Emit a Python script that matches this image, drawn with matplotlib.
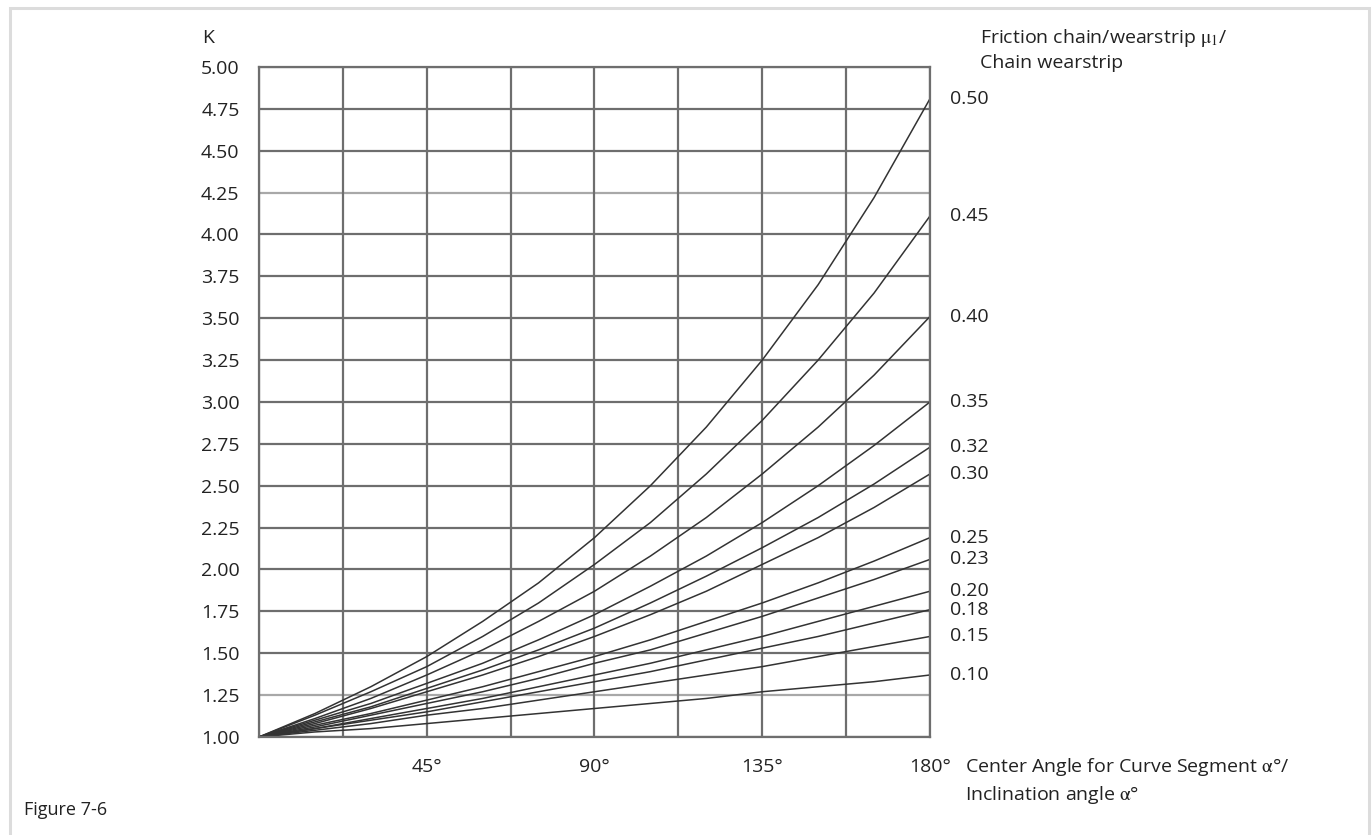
import numpy as np
import matplotlib
matplotlib.use('Agg')
import matplotlib.pyplot as plt
from matplotlib.patches import Rectangle

plt.rcParams['font.family'] = ['Open Sans', 'DejaVu Sans']
plt.rcParams['mathtext.fontset'] = 'stix'

# angle (degrees) and K for each friction coefficient
angles = [0, 15, 30, 45, 60, 75, 90, 105, 120, 135, 150, 165, 180]
mu_labels = ['0.50', '0.45', '0.40', '0.35', '0.32', '0.30',
             '0.25', '0.23', '0.20', '0.18', '0.15', '0.10']
k_050 = [1.00, 1.14, 1.30, 1.48, 1.69, 1.92, 2.19, 2.50, 2.85, 3.25, 3.70, 4.22, 4.81]
k_045 = [1.00, 1.13, 1.27, 1.42, 1.60, 1.80, 2.03, 2.28, 2.57, 2.89, 3.25, 3.65, 4.11]
k_040 = [1.00, 1.11, 1.23, 1.37, 1.52, 1.69, 1.87, 2.08, 2.31, 2.57, 2.85, 3.16, 3.51]
k_035 = [1.00, 1.10, 1.20, 1.32, 1.44, 1.58, 1.73, 1.90, 2.08, 2.28, 2.50, 2.74, 3.00]
k_032 = [1.00, 1.09, 1.18, 1.29, 1.40, 1.52, 1.65, 1.80, 1.96, 2.13, 2.31, 2.51, 2.73]
k_030 = [1.00, 1.08, 1.17, 1.27, 1.37, 1.48, 1.60, 1.73, 1.87, 2.03, 2.19, 2.37, 2.57]
k_025 = [1.00, 1.07, 1.14, 1.22, 1.30, 1.39, 1.48, 1.58, 1.69, 1.80, 1.92, 2.05, 2.19]
k_023 = [1.00, 1.06, 1.13, 1.20, 1.27, 1.35, 1.44, 1.52, 1.62, 1.72, 1.83, 1.94, 2.06]
k_020 = [1.00, 1.05, 1.11, 1.17, 1.23, 1.30, 1.37, 1.44, 1.52, 1.60, 1.69, 1.78, 1.87]
k_018 = [1.00, 1.05, 1.10, 1.15, 1.21, 1.27, 1.33, 1.39, 1.46, 1.53, 1.60, 1.68, 1.76]
k_015 = [1.00, 1.04, 1.08, 1.13, 1.17, 1.22, 1.27, 1.32, 1.37, 1.42, 1.48, 1.54, 1.60]
k_010 = [1.00, 1.03, 1.05, 1.08, 1.11, 1.14, 1.17, 1.20, 1.23, 1.27, 1.30, 1.33, 1.37]
curves = [k_050, k_045, k_040, k_035, k_032, k_030,
          k_025, k_023, k_020, k_018, k_015, k_010]

x_grid = np.arange(0, 181, 22.5)
x_labels = ['', '', '45°', '', '90°', '', '135°', '', '180°']
k_ticks = np.arange(1.0, 5.01, 0.25)

txt = '#222222'
grid_c = '#6e6e6e'
fs = 14

fig = plt.figure(figsize=(13.72, 8.35), dpi=100)
ax = fig.add_axes([0.1888, 0.1174, 0.489, 0.8024])

# light frame around the figure
fig.patches.append(Rectangle((0.0073, -0.01), 0.9905, 1.0, transform=fig.transFigure,
                             fill=False, edgecolor='#dcdcdc', linewidth=2.2))

for k in curves:
    ax.plot(angles, k, color='#333333', linewidth=1.1)

for kv in k_ticks:
    lc = '#a8a8a8' if kv in (1.25, 4.25) else grid_c
    ax.axhline(kv, color=lc, linewidth=1.6, zorder=0)
for xv in x_grid:
    ax.axvline(xv, color=grid_c, linewidth=1.6, zorder=0)

ax.set_xlim(0, 180)
ax.set_ylim(1.0, 5.0)
ax.set_xticks(x_grid)
ax.set_xticklabels(x_labels)
ax.set_yticks(k_ticks)
ax.set_yticklabels(['%.2f' % v for v in k_ticks])
ax.tick_params(length=0, labelsize=fs, colors=txt)
ax.tick_params(axis='y', pad=14)
ax.tick_params(axis='x', pad=15)
for s in ax.spines.values():
    s.set_color(grid_c)
    s.set_linewidth(1.6)

# curve labels at the right end
for lab, k in zip(mu_labels, curves):
    ax.text(185.5, k[-1], lab, fontsize=fs, color=txt, va='center', ha='left')

fig.text(0.1472, 0.955, 'K', fontsize=fs, color=txt, va='center')
fig.text(0.714, 0.955, r'Friction chain/wearstrip $\mathrm{μ}_1$/', fontsize=fs, color=txt, va='center')
fig.text(0.714, 0.924, 'Chain wearstrip', fontsize=fs, color=txt, va='center')
fig.text(0.7035, 0.081, r'Center Angle for Curve Segment $\mathrm{α}$°/', fontsize=fs, color=txt, va='center')
fig.text(0.7035, 0.048, r'Inclination angle $\mathrm{α}$°', fontsize=fs, color=txt, va='center')
fig.text(0.0175, 0.03, 'Figure 7-6', fontsize=13, color=txt, va='center')

fig.savefig('out.png', dpi=100)
